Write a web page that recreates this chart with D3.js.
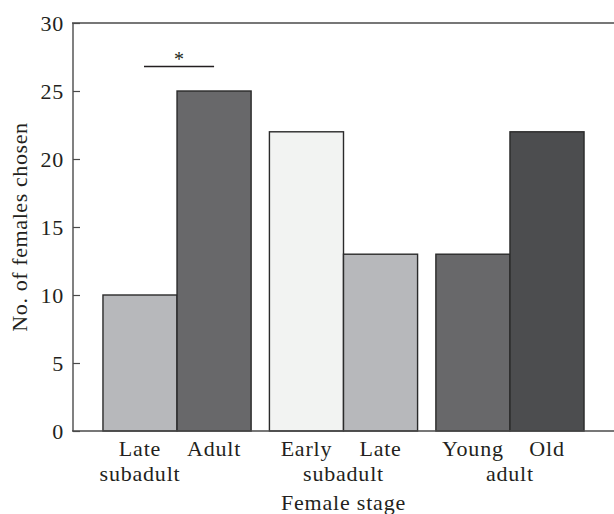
<!DOCTYPE html>
<html>
<head>
<meta charset="utf-8">
<script src="https://cdn.jsdelivr.net/npm/d3@7"></script>
<style>
  html, body { margin: 0; padding: 0; background: #fff; }
  svg text { font-family: "Liberation Serif", "Times New Roman", serif; fill: #231f20; }
</style>
</head>
<body>
<svg id="chart" width="614" height="514"></svg>
<script>
// data
const groups = ['g1', 'g2', 'g3'];
const barKeys = ['a', 'b'];
const values = [[10, 25], [22, 13], [13, 22]];
const topLabels = [['Late', 'Adult'], ['Early', 'Late'], ['Young', 'Old']];
const bottomLabels = ['subadult', 'subadult', 'adult'];
const bottomAt = [0, 1, 1]; // 0 = under first bar, 1 = under group middle
const fills = [['#b7b8bb', '#68686a'], ['#f2f3f2', '#b7b8bb'], ['#68686a', '#4c4d4f']];
const yTicks = [0, 5, 10, 15, 20, 25, 30];
const sigLevel = 26.8;

const margin = { top: 23, right: 0, bottom: 83, left: 73 };
const width = 614 - margin.left - margin.right;
const height = 514 - margin.top - margin.bottom;
const fs = '22px';
const ls = '0.8px';

const svg = d3.select('#chart');
const g = svg.append('g').attr('transform', 'translate(' + margin.left + ',' + margin.top + ')');

const x0 = d3.scaleBand().domain(groups).range([0, width]).paddingInner(0.11).paddingOuter(0.18);
const x1 = d3.scaleBand().domain(barKeys).range([0, x0.bandwidth()]);
const y = d3.scaleLinear().domain([0, 30]).range([height, 0]);

// bars
groups.forEach(function (grp, i) {
    g.selectAll('.bar-' + i)
        .data(values[i])
        .enter()
        .append('rect')
        .attr('x', function (d, j) { return x0(grp) + x1(barKeys[j]); })
        .attr('y', function (d) { return y(d); })
        .attr('width', x1.bandwidth())
        .attr('height', function (d) { return y(0) - y(d); })
        .attr('fill', function (d, j) { return fills[i][j]; })
        .attr('stroke', '#2a2a2a')
        .attr('stroke-width', 1.4);
});

// frame: left, top, bottom
const axisColor = '#4a4a4a';
g.append('line').attr('x1', 0).attr('x2', 0).attr('y1', y(30)).attr('y2', y(0))
    .attr('stroke', axisColor).attr('stroke-width', 1.4);
g.append('line').attr('x1', -1).attr('x2', width).attr('y1', y(30)).attr('y2', y(30))
    .attr('stroke', axisColor).attr('stroke-width', 1.4);
g.append('line').attr('x1', -1).attr('x2', width).attr('y1', y(0)).attr('y2', y(0))
    .attr('stroke', axisColor).attr('stroke-width', 1.4);

// y ticks (inward) and labels
const yAxis = d3.axisLeft(y).tickValues(yTicks).tickSizeInner(-7).tickSizeOuter(0).tickPadding(9);
const ya = g.append('g').call(yAxis);
ya.attr('font-size', null).attr('font-family', null);
ya.select('.domain').remove();
ya.selectAll('.tick line').attr('stroke', axisColor).attr('stroke-width', 1.2);
ya.selectAll('.tick text')
    .style('font-size', fs)
    .style('letter-spacing', '0.8px')
    .attr('fill', '#231f20')
    .attr('dy', '0.32em');

// x labels
groups.forEach(function (grp, i) {
    barKeys.forEach(function (k, j) {
        g.append('text')
            .attr('x', x0(grp) + x1(k) + x1.bandwidth() / 2)
            .attr('y', height + 25)
            .attr('text-anchor', 'middle')
            .style('font-size', fs)
            .style('letter-spacing', ls)
            .text(topLabels[i][j]);
    });
    const bx = bottomAt[i] === 0
        ? x0(grp) + x1(barKeys[0]) + x1.bandwidth() / 2
        : x0(grp) + x0.bandwidth() / 2;
    g.append('text')
        .attr('x', bx)
        .attr('y', height + 50)
        .attr('text-anchor', 'middle')
        .style('font-size', fs)
        .style('letter-spacing', ls)
        .text(bottomLabels[i]);
});

// axis titles
g.append('text')
    .attr('x', width / 2)
    .attr('y', height + 79)
    .attr('text-anchor', 'middle')
    .style('font-size', fs)
    .style('letter-spacing', ls)
    .text('Female stage');

g.append('text')
    .attr('transform', 'translate(' + (-46) + ',' + (height / 2) + ') rotate(-90)')
    .attr('text-anchor', 'middle')
    .style('font-size', fs)
    .style('letter-spacing', '0.6px')
    .text('No. of females chosen');

// significance bar
const c1 = x0('g1') + x1('a') + x1.bandwidth() / 2;
const c2 = x0('g1') + x1('b') + x1.bandwidth() / 2;
g.append('line')
    .attr('x1', c1 + 4).attr('x2', c2)
    .attr('y1', y(sigLevel)).attr('y2', y(sigLevel))
    .attr('stroke', '#231f20').attr('stroke-width', 1.3);
g.append('text')
    .attr('x', (c1 + 4 + c2) / 2)
    .attr('y', y(sigLevel) - 1)
    .attr('text-anchor', 'middle')
    .style('font-size', '20px')
    .text('*');
</script>
</body>
</html>
